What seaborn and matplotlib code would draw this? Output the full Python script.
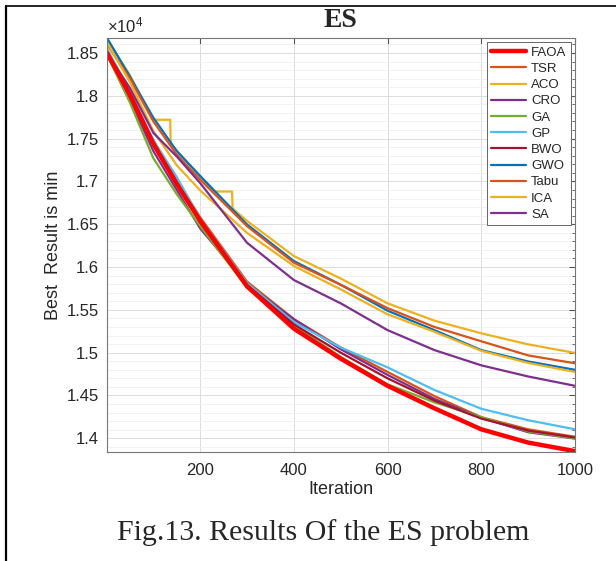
import matplotlib
matplotlib.use('Agg')
import matplotlib.pyplot as plt
from matplotlib.ticker import FuncFormatter, MultipleLocator, FixedLocator
from matplotlib.lines import Line2D
import seaborn as sns
import pandas as pd

# iterations
iters = [1, 50, 100, 150, 200, 300, 400, 500, 600, 700, 800, 900, 1000]

faoa = [18500, 18010, 17440, 16970, 16540, 15775, 15280, 14930, 14613, 14350, 14105, 13950, 13850]
tsr = [18520, 18000, 17480, 17020, 16580, 15830, 15392, 15060, 14775, 14493, 14247, 14105, 14018]
cro = [18480, 17950, 17354, 16900, 16450, 15800, 15390, 15040, 14740, 14460, 14240, 14071, 13997]
ga = [18480, 17920, 17270, 16850, 16477, 15758, 15319, 14950, 14630, 14420, 14247, 14080, 14000]
gp = [18550, 18050, 17480, 17050, 16560, 15812, 15356, 15060, 14828, 14564, 14345, 14211, 14105]
bwo = [18500, 17990, 17420, 16960, 16520, 15790, 15330, 15000, 14700, 14440, 14230, 14090, 14010]
gwo = [18675, 18223, 17743, 17354, 17063, 16497, 16070, 15793, 15490, 15263, 15030, 14897, 14800]
tabu = [18600, 18200, 17700, 17313, 17020, 16477, 16050, 15793, 15520, 15300, 15133, 14968, 14876]
ica = [18620, 18159, 17588, 17188, 16894, 16399, 16012, 15739, 15448, 15244, 15022, 14880, 14775]
sa = [18500, 18090, 17566, 17290, 16980, 16283, 15848, 15576, 15263, 15030, 14852, 14722, 14613]

# ACO has two flat stretches
aco_iter = [1, 50, 99, 136, 137, 229, 268, 269, 300, 400, 500, 600, 700, 800, 900, 1000]
aco = [18660, 18240, 17720, 17720, 17438, 16882, 16882, 16685, 16538, 16128, 15866, 15576, 15374, 15226, 15097, 14997]

names = ['FAOA', 'TSR', 'ACO', 'CRO', 'GA', 'GP', 'BWO', 'GWO', 'Tabu', 'ICA', 'SA']
colors = ['#FF0000', '#D95319', '#EDB120', '#7E2F8E', '#77AC30', '#4DBEEE',
          '#A2142F', '#0072BD', '#D95319', '#EDB120', '#7E2F8E']

series = {'FAOA': (iters, faoa), 'TSR': (iters, tsr), 'ACO': (aco_iter, aco),
          'CRO': (iters, cro), 'GA': (iters, ga), 'GP': (iters, gp),
          'BWO': (iters, bwo), 'GWO': (iters, gwo), 'Tabu': (iters, tabu),
          'ICA': (iters, ica), 'SA': (iters, sa)}

sns.set_style('white')
plt.rcParams['font.family'] = ['Liberation Sans', 'DejaVu Sans']
plt.rcParams['mathtext.fontset'] = 'custom'
plt.rcParams['mathtext.rm'] = 'Liberation Sans'

fig = plt.figure(figsize=(6.16, 5.61), dpi=100)
ax = fig.add_axes([0.1737, 0.1943, 0.7597, 0.738])

# draw FAOA last so it sits on top
order = names[1:] + ['FAOA']
for nm in order:
    x, y = series[nm]
    df = pd.DataFrame({'Iteration': x, 'value': y})
    c = colors[names.index(nm)]
    lw = 3.2 if nm == 'FAOA' else 1.6
    sns.lineplot(data=df, x='Iteration', y='value', color=c, lw=lw, ax=ax,
                 estimator=None, sort=False, legend=False)

handles = [Line2D([0], [0], color=colors[i], lw=(3.2 if n == 'FAOA' else 1.6))
           for i, n in enumerate(names)]
leg = ax.legend(handles, names, loc='upper right', fontsize=9.5, frameon=True,
                fancybox=False, edgecolor='#666666', framealpha=1,
                handlelength=2.6, labelspacing=0.3, borderaxespad=0.3,
                borderpad=0.35, handletextpad=0.4)
leg.get_frame().set_linewidth(0.7)

ax.set_xlim(1, 1000)
ax.set_ylim(13840, 18675)
ax.xaxis.set_major_locator(FixedLocator([200, 400, 600, 800, 1000]))
ax.yaxis.set_major_locator(MultipleLocator(500))
ax.yaxis.set_minor_locator(MultipleLocator(100))
ax.yaxis.set_major_formatter(FuncFormatter(lambda v, p: f"{v / 1e4:g}"))
ax.grid(True, which='major', color='#dcdcdc', lw=0.7)
ax.grid(True, which='minor', axis='y', color='#efefef', lw=0.6)
ax.set_axisbelow(True)
ax.tick_params(direction='in', which='both', top=True, right=True,
               labelsize=12, colors='#555555', labelcolor='#262626', length=4)
ax.tick_params(axis='x', pad=8)
ax.tick_params(axis='y', pad=6)
ax.tick_params(which='minor', length=2)
for s in ax.spines.values():
    s.set_color('#777777')
    s.set_linewidth(0.8)

ax.set_xlabel('Iteration', fontsize=13, color='#262626', labelpad=2)
ax.set_ylabel('Best  Result is min', fontsize=13, color='#262626', labelpad=3)
ax.text(0.0, 1.006, r'$\times\mathregular{10^4}$', transform=ax.transAxes,
        fontsize=12, color='#262626', va='bottom', ha='left')
fig.text(0.552, 0.963, 'ES', fontsize=20, fontweight='bold',
         family='Liberation Serif', ha='center', va='center')
fig.text(0.525, 0.0374, 'Fig.13. Results Of the ES problem', fontsize=21.5,
         family='Liberation Serif', ha='center', va='baseline')

# page frame lines
fig.add_artist(Line2D([0.0097, 0.0097], [0.0, 0.989], color='black', lw=1.6))
fig.add_artist(Line2D([0.0097, 1.0], [0.989, 0.989], color='black', lw=1.2))

fig.savefig('out.png', dpi=100)
